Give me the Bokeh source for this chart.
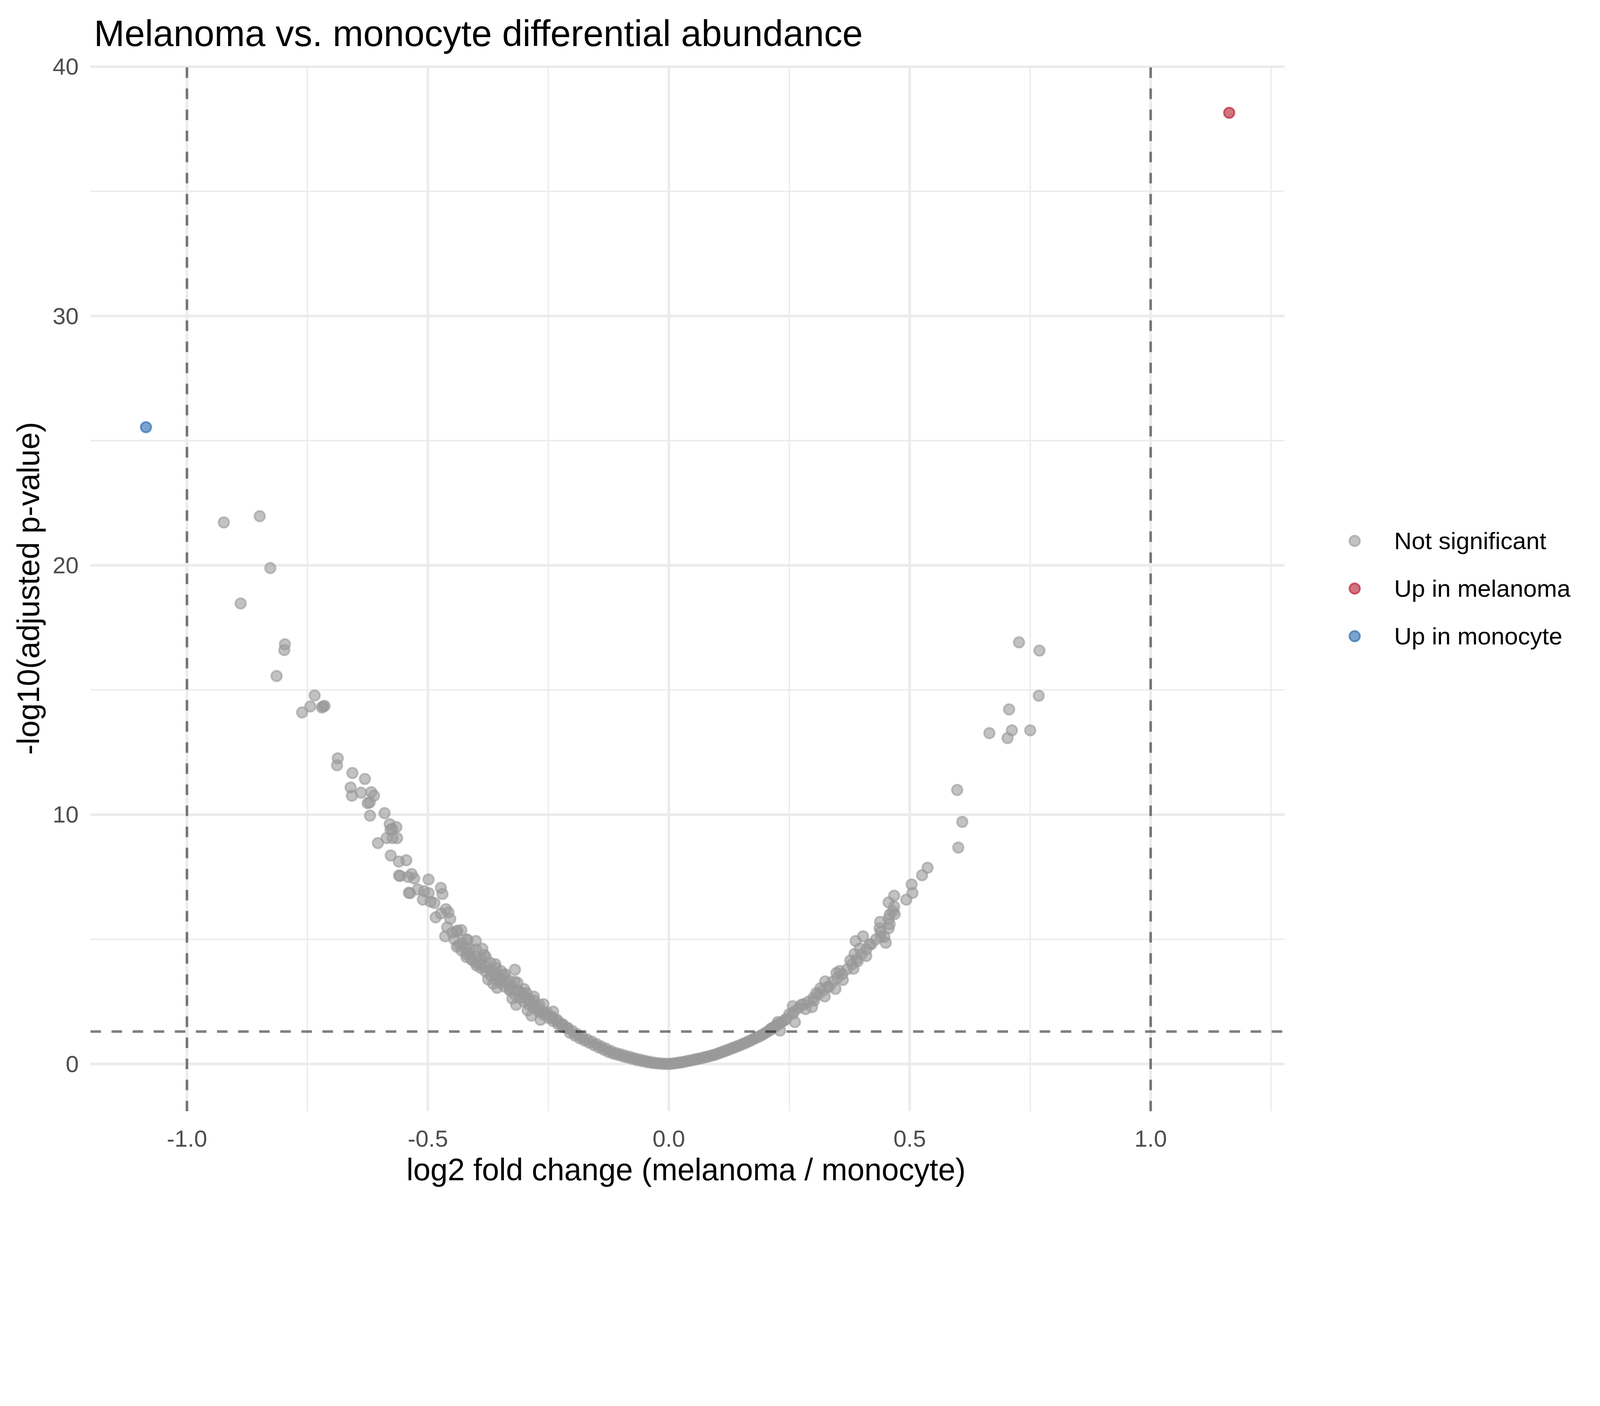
from bokeh.plotting import figure
from bokeh.models import (Range1d, Legend, LegendItem, FixedTicker, Title,
                          NumeralTickFormatter, ColumnDataSource)
from bokeh.embed import file_html
from bokeh.resources import INLINE

# ---------------- data ----------------
title_text = "Melanoma vs. monocyte differential abundance"
x_label = "log2 fold change (melanoma / monocyte)"
y_label = "-log10(adjusted p-value)"
categories = ["Not significant", "Up in melanoma", "Up in monocyte"]
colors = ["#999999", "#B2182B", "#2166AC"]
fc_threshold = 1.0
p_threshold_line = 1.30103  # -log10(0.05)

x_ticks = [-1.0, -0.5, 0.0, 0.5, 1.0]
x_minor = [-0.75, -0.25, 0.25, 0.75, 1.25]
y_ticks = [0, 10, 20, 30, 40]
y_minor = [5, 15, 25, 35]

# panel (data area) limits
x_lo, x_hi = -1.2003, 1.2779
y_lo, y_hi = -1.90, 40.05

up_melanoma_x = [1.163]
up_melanoma_y = [38.15]
up_monocyte_x = [-1.085]
up_monocyte_y = [25.54]

ns_x = [
    # upper left scattered
    -0.9235, -0.849, -0.827, -0.8885, -0.7967, -0.798, -0.814, -0.735, -0.744, -0.761,
    -0.717, -0.720, -0.7145, -0.687, -0.6885, -0.6567, -0.6307, -0.6604, -0.6387, -0.6577,
    -0.6175, -0.6117, -0.6249, -0.6207, -0.6201, -0.5899, -0.5793, -0.5655, -0.5775, -0.5856,
    -0.5734, -0.5639, -0.6037, -0.5771, -0.5602, -0.5448, -0.560, -0.5576, -0.5337, -0.5284,
    -0.4986, -0.541, -0.574,
    # mid left
    -0.5395, -0.537, -0.521, -0.5077, -0.4984, -0.473, -0.4697, -0.5103, -0.4944, -0.4865,
    -0.4838, -0.4626, -0.4573, -0.473, -0.4536, -0.46, -0.4387, -0.4307, -0.4493, -0.4642,
    -0.4175, -0.4005, -0.436, -0.4227, -0.4121, -0.3868, -0.4202, -0.3832, -0.4069, -0.399,
    -0.391, -0.3804, -0.3698, -0.3592, -0.3486, -0.3194, -0.375, -0.3645, -0.3565, -0.3433,
    -0.3327, -0.3274, -0.3141, -0.3167, -0.3035, -0.3247, -0.3167, -0.2955, -0.2902, -0.2796,
    -0.269, -0.2929, -0.2849, -0.2664, -0.2531, -0.2425, -0.2319, -0.2213, -0.2107,
    -0.445, -0.43, -0.415, -0.40, -0.39, -0.37, -0.36, -0.35, -0.34, -0.33, -0.31,
    # left band, lower edge and upper edge
    -0.44, -0.43, -0.42, -0.41, -0.40, -0.39, -0.38, -0.37, -0.36, -0.35, -0.34, -0.33,
    -0.32, -0.31, -0.30, -0.29, -0.28, -0.27, -0.26, -0.25, -0.24, -0.23, -0.22,
    -0.44, -0.42, -0.40, -0.38, -0.36, -0.34, -0.32, -0.30, -0.28, -0.26, -0.24,
    # left band
    -0.30, -0.29, -0.28, -0.27, -0.26, -0.25, -0.24, -0.23, -0.22, -0.21,
    -0.20, -0.19, -0.18, -0.17, -0.16, -0.15, -0.14, -0.13, -0.12, -0.11,
    -0.10, -0.09, -0.08, -0.07, -0.06, -0.05, -0.04, -0.03, -0.02, -0.01,
    -0.205, -0.195, -0.185, -0.175, -0.165, -0.155, -0.145, -0.135, -0.125, -0.115,
    -0.105, -0.095, -0.085, -0.075, -0.065, -0.055, -0.045, -0.035, -0.025, -0.015, -0.005,
    # center and right band
    0.0, 0.005, 0.01, 0.015, 0.02, 0.025, 0.03, 0.035, 0.04, 0.045, 0.05, 0.055, 0.06, 0.065,
    0.07, 0.075, 0.08, 0.085, 0.09, 0.095, 0.10, 0.105, 0.11, 0.115, 0.12, 0.125, 0.13,
    0.135, 0.14, 0.145, 0.15, 0.155, 0.16, 0.165, 0.17, 0.175, 0.18, 0.185, 0.19, 0.195,
    0.20, 0.205, 0.21, 0.215, 0.22, 0.225, 0.23, 0.235, 0.24,
    0.25, 0.26, 0.27, 0.28, 0.29, 0.30, 0.31, 0.32, 0.33, 0.34,
    0.35, 0.36, 0.37, 0.38, 0.39, 0.40, 0.41, 0.42, 0.43, 0.44,
    # right scattered
    0.244, 0.2263, 0.2308, 0.2131, 0.2617, 0.2573, 0.2573, 0.2749, 0.2838, 0.2971,
    0.3015, 0.3236, 0.3059, 0.3148, 0.3458, 0.3325, 0.3245, 0.3611, 0.3479, 0.3545,
    0.3832, 0.3766, 0.3921, 0.3855, 0.4098, 0.3965, 0.4164, 0.3877, 0.4031, 0.4504,
    0.4398, 0.4474, 0.4562, 0.4376, 0.4385, 0.4584, 0.4688, 0.4562, 0.4584, 0.465,
    0.4677, 0.4562, 0.4677, 0.4929, 0.5057, 0.5039, 0.5256, 0.537, 0.6007, 0.609,
    0.5985, 0.75, 0.703, 0.712, 0.6653, 0.7062, 0.7677, 0.7692, 0.7268,
]
ns_y = [
    21.72, 21.97, 19.89, 18.47, 16.83, 16.60, 15.56, 14.78, 14.34, 14.10,
    14.34, 14.30, 14.36, 12.26, 11.98, 11.67, 11.43, 11.09, 10.88, 10.76,
    10.90, 10.76, 10.46, 10.49, 9.96, 10.06, 9.62, 9.50, 9.39, 9.06,
    9.06, 9.06, 8.86, 8.36, 8.12, 8.17, 7.56, 7.54, 7.62, 7.44,
    7.40, 7.50, 9.43,
    6.87, 6.85, 7.00, 6.93, 6.85, 7.06, 6.82, 6.59, 6.51, 6.46,
    5.88, 6.21, 6.08, 6.04, 5.82, 5.48, 5.35, 5.37, 5.27, 5.12,
    4.97, 4.93, 4.76, 4.67, 4.60, 4.62, 4.29, 4.37, 4.16, 3.95,
    3.99, 3.90, 3.78, 3.86, 3.73, 3.78, 3.39, 3.22, 3.05, 3.56,
    3.35, 3.13, 3.26, 2.96, 2.84, 2.62, 2.37, 2.84, 2.62, 2.54,
    2.37, 2.15, 1.94, 1.77, 2.07, 1.90, 1.77, 1.60, 1.43,
    5.00, 4.85, 4.45, 4.30, 4.20, 4.05, 3.60, 3.40, 3.30, 3.00, 2.90,
    4.70, 4.55, 4.40, 4.20, 4.05, 3.85, 3.70, 3.55, 3.40, 3.25, 3.10, 2.95,
    2.80, 2.65, 2.50, 2.38, 2.25, 2.10, 1.98, 1.85, 1.72, 1.60, 1.48,
    5.30, 5.00, 4.60, 4.30, 4.00, 3.60, 3.30, 3.00, 2.70, 2.40, 2.10,
    2.68, 2.52, 2.37, 2.22, 2.08, 1.95, 1.82, 1.70, 1.58, 1.45,
    1.32, 1.19, 1.08, 0.99, 0.90, 0.80, 0.70, 0.61, 0.52, 0.44,
    0.39, 0.33, 0.28, 0.22, 0.18, 0.13, 0.09, 0.05, 0.03, 0.01,
    1.25, 1.14, 1.03, 0.94, 0.85, 0.75, 0.66, 0.57, 0.48, 0.41,
    0.36, 0.30, 0.25, 0.20, 0.15, 0.11, 0.07, 0.04, 0.02, 0.01, 0.0,
    0.0, 0.01, 0.02, 0.03, 0.05, 0.06, 0.08, 0.10, 0.12, 0.14, 0.16, 0.18, 0.20, 0.22,
    0.24, 0.27, 0.29, 0.32, 0.34, 0.37, 0.40, 0.44, 0.47, 0.51, 0.54, 0.58, 0.62,
    0.66, 0.69, 0.73, 0.77, 0.81, 0.85, 0.90, 0.94, 0.99, 1.04, 1.08, 1.13, 1.18,
    1.24, 1.30, 1.36, 1.43, 1.50, 1.56, 1.62, 1.68, 1.75,
    2.00, 2.10, 2.25, 2.40, 2.50, 2.65, 2.80, 2.95, 3.10, 3.30,
    3.45, 3.60, 3.80, 4.00, 4.20, 4.40, 4.60, 4.80, 5.00, 5.30,
    1.81, 1.68, 1.34, 1.43, 1.68, 2.32, 2.02, 2.37, 2.20, 2.28,
    2.54, 2.71, 2.84, 3.04, 3.01, 3.09, 3.31, 3.37, 3.65, 3.73,
    3.82, 4.15, 4.12, 4.41, 4.33, 4.63, 4.80, 4.93, 5.12, 4.86,
    5.10, 5.10, 5.44, 5.44, 5.70, 5.61, 6.01, 5.82, 5.99, 6.12,
    6.31, 6.48, 6.75, 6.59, 6.86, 7.20, 7.57, 7.87, 8.68, 9.71,
    10.99, 13.38, 13.07, 13.38, 13.27, 14.22, 14.77, 16.58, 16.91,
]

FONT = "Liberation Sans"

# layout (CSS px)
FIG_W, FIG_H = 4108, 3076
B_LEFT, B_RIGHT, B_TOP, B_BOTTOM = 231, 30, 165, 231
PANEL_W = 3057  # width of the data panel inside the frame
px_per_unit = PANEL_W / (x_hi - x_lo)
frame_w = FIG_W - B_LEFT - B_RIGHT
x_frame_end = x_lo + frame_w / px_per_unit

p = figure(width=FIG_W, height=FIG_H,
           x_range=Range1d(x_lo, x_frame_end), y_range=Range1d(y_lo, y_hi),
           output_backend="svg", toolbar_location=None,
           min_border_left=B_LEFT, min_border_right=B_RIGHT,
           min_border_top=B_TOP, min_border_bottom=B_BOTTOM,
           background_fill_color="white", border_fill_color="white")
p.outline_line_color = None

p.title.text = title_text
p.title.text_font = FONT
p.title.text_font_size = "94px"
p.title.text_font_style = "normal"
p.title.text_color = "black"
p.title.align = "left"
p.title.standoff = 60
p.title.offset = 9

for ax in (p.xaxis[0], p.yaxis[0]):
    ax.axis_line_color = None
    ax.major_tick_line_color = None
    ax.minor_tick_line_color = None
    ax.major_tick_out = 0
    ax.major_tick_in = 0
    ax.minor_tick_out = 0
    ax.minor_tick_in = 0
    ax.major_label_text_font = FONT
    ax.major_label_text_font_size = "60px"
    ax.major_label_text_color = "#4D4D4D"
    ax.axis_label_text_font = FONT
    ax.axis_label_text_font_size = "79px"
    ax.axis_label_text_font_style = "normal"
    ax.axis_label_text_color = "black"

p.xaxis.ticker = FixedTicker(ticks=x_ticks, minor_ticks=x_minor)
p.yaxis.ticker = FixedTicker(ticks=y_ticks, minor_ticks=y_minor)
p.xaxis.formatter = NumeralTickFormatter(format="0.0")
p.yaxis.formatter = NumeralTickFormatter(format="0")
p.yaxis.axis_label = y_label
p.xaxis.major_label_standoff = 49
p.yaxis.major_label_standoff = 30
p.yaxis.axis_label_standoff = 15

# x-axis title, placed below the tick labels and aligned like the reference
xt = Title(text=x_label, align="left", offset=809, standoff=18,
           text_font=FONT, text_font_size="79px", text_font_style="normal",
           text_color="black")
p.add_layout(xt, "below")

# grid lines restricted to the data panel
p.xgrid.grid_line_color = None
p.ygrid.grid_line_color = None
p.xgrid.minor_grid_line_color = None
p.ygrid.minor_grid_line_color = None
GRID = "#EBEBEB"
p.segment(x0=x_minor, x1=x_minor, y0=[y_lo] * len(x_minor), y1=[y_hi] * len(x_minor),
          line_color=GRID, line_width=3.3)
p.segment(x0=[x_lo] * len(y_minor), x1=[x_hi] * len(y_minor), y0=y_minor, y1=y_minor,
          line_color=GRID, line_width=3.3)
p.segment(x0=x_ticks, x1=x_ticks, y0=[y_lo] * len(x_ticks), y1=[y_hi] * len(x_ticks),
          line_color=GRID, line_width=6.5)
p.segment(x0=[x_lo] * len(y_ticks), x1=[x_hi] * len(y_ticks), y0=y_ticks, y1=y_ticks,
          line_color=GRID, line_width=6.5)

renderers = []
for xs, ys, col in ((ns_x, ns_y, colors[0]),
                    (up_melanoma_x, up_melanoma_y, colors[1]),
                    (up_monocyte_x, up_monocyte_y, colors[2])):
    src = ColumnDataSource(dict(x=xs, y=ys))
    r = p.scatter("x", "y", source=src, size=26.7, fill_color=col, fill_alpha=0.6,
                  line_color=col, line_alpha=0.6, line_width=4.6)
    renderers.append(r)

# threshold lines
vx = [-fc_threshold, fc_threshold]
p.segment(x0=vx, x1=vx, y0=[y_lo, y_lo], y1=[y_hi, y_hi], line_color="black",
          line_alpha=0.5, line_width=6.5, line_dash="27 27")
p.segment(x0=[x_lo], x1=[x_hi], y0=[p_threshold_line], y1=[p_threshold_line],
          line_color="black", line_alpha=0.5, line_width=6.5, line_dash="27 27")

legend = Legend(items=[LegendItem(label=c, renderers=[r]) for c, r in zip(categories, renderers)],
                location=(3203, 1181))
legend.glyph_width = 67
legend.glyph_height = 67
legend.spacing = 51
legend.padding = 0
legend.margin = 0
legend.label_standoff = 68
legend.label_text_font = FONT
legend.label_text_font_size = "62px"
legend.label_text_color = "black"
legend.border_line_color = None
legend.background_fill_alpha = 0
p.add_layout(legend)

open("out.html", "w").write(file_html(p, INLINE))
